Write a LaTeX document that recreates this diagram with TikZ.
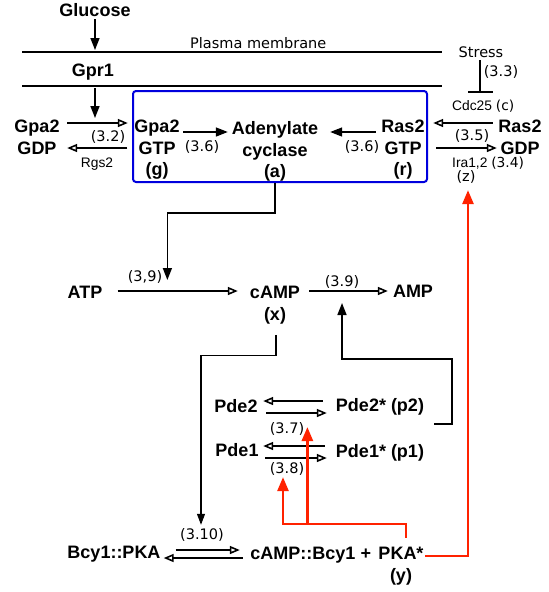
\documentclass[tikz,border=0pt]{standalone}
\usepackage{fontspec}
\setmainfont{Liberation Sans}
\newfontfamily\rateFont{DejaVu Sans}
\usetikzlibrary{arrows.meta, calc}

\begin{document}
\begin{tikzpicture}[x=1pt, y=-1pt,
    species/.style={font=\fontsize{18}{21.5}\selectfont\bfseries, align=center, inner sep=0pt, anchor=base},
    rate/.style={font=\rateFont\fontsize{14.5}{17}\selectfont, inner sep=0pt, anchor=base},
    enzyme/.style={font=\fontsize{13.8}{16}\selectfont, inner sep=0pt, anchor=base},
    membrane/.style={line width=2.4pt},
    conv/.style={line width=1.6pt, -{Triangle[open, length=10pt, width=8pt]}},
    act/.style={line width=1.6pt, -{Triangle[length=12pt, width=9pt]}},
    thinact/.style={line width=1.1pt, -{Triangle[length=11pt, width=8pt]}},
    inhib/.style={line width=2pt, -{Bar[width=25pt]}},
    feed/.style={line width=2.6pt, draw=feedColour, -{Triangle[length=14pt, width=11pt, fill=feedColour]}},
    cyclebox/.style={draw=boxColour, line width=2pt, rounded corners=3pt, inner sep=0pt}]

    % Define colours
    \definecolor{feedColour}{HTML}{FF2200}
    \definecolor{boxColour}{HTML}{0000DD}

    \useasboundingbox (0,0) rectangle (549,592);

    % Membrane
    \coordinate (memTopL) at (22,52);
    \coordinate (memTopR) at (442,52);
    \coordinate (memBotL) at (22,86);
    \coordinate (memBotR) at (442,86);
    \draw[membrane] (memTopL) -- (memTopR);
    \draw[membrane] (memBotL) -- (memBotR);
    \node[rate, anchor=base west] (memLabel) at (190,48) {Plasma membrane};

    % Species (base = last line)
    \node[species] (glucose) at (95,16.5) {Glucose};
    \node[species] (gpr1) at (93,76.5) {Gpr1};
    \node[species] (gpa2gdp) at (37,154) {Gpa2\\GDP};
    \node[species] (gpa2gtp) at (157,175.5) {Gpa2\\GTP\\(g)};
    \node[species] (adcyc) at (275,177.5) {Adenylate\\cyclase\\(a)};
    \node[species] (ras2gtp) at (403,175.5) {Ras2\\GTP\\(r)};
    \node[species] (ras2gdp) at (520,154) {Ras2\\GDP};
    \node[species] (atp) at (85,298.5) {ATP};
    \node[species] (camp) at (275,320) {cAMP\\(x)};
    \node[species] (amp) at (413,297.5) {AMP};
    \node[species] (pde2) at (236,412.5) {Pde2};
    \node[species] (pde2s) at (380,411.5) {Pde2* (p2)};
    \node[species] (pde1) at (237,456.5) {Pde1};
    \node[species] (pde1s) at (380,457) {Pde1* (p1)};
    \node[species] (bcy) at (114,558.5) {Bcy1::PKA};
    \node[species] (complex) at (303,559.5) {cAMP::Bcy1};
    \node[species] (plus) at (366,559.5) {+};
    \node[species] (pka) at (401,581) {PKA*\\(y)};

    % Blue box round the cyclase
    \node[cyclebox, minimum width=294pt, minimum height=91pt] (box) at (280,136.5) {};

    % Stress and enzymes
    \node[rate] (stress) at (481,57) {Stress};
    \node[enzyme, anchor=base west] (cdc25) at (452,110) {Cdc25 {\rateFont (c)}};
    \node[enzyme] (rgs2) at (97,167) {Rgs2};
    \node[enzyme, anchor=base west] (ira) at (452,167) {Ira1,2 {\rateFont (3.4)}};
    \node[rate] (iraz) at (466,181) {(z)};

    % Rate labels
    \node[rate] (rate33) at (501,76) {(3.3)};
    \node[rate] (rate32) at (108,141) {(3.2)};
    \node[rate] (rate36a) at (202,151) {(3.6)};
    \node[rate] (rate36b) at (362,151) {(3.6)};
    \node[rate] (rate35) at (472,140) {(3.5)};
    \node[rate] (rate39a) at (145,281) {(3,9)};
    \node[rate] (rate39b) at (342,286) {(3.9)};
    \node[rate] (rate37) at (287,433) {(3.7)};
    \node[rate] (rate38) at (287,473) {(3.8)};
    \node[rate] (rate310) at (202,539) {(3.10)};

    % Glucose signal through the membrane
    \draw[act] ($(glucose.south)+(0,2.5)$) -- ($(glucose.south |- memTopL)+(0,-2)$);
    \coordinate (r32) at ($(gpr1.base |- memBotL)+(2,32)$);
    \draw[act] ($(gpr1.base |- memBotL)+(2,2)$) -- (r32);

    % Gpa2 cycle
    \draw[conv] ([xshift=7.5pt,yshift=31pt]gpa2gdp.base east) -- ([xshift=-6.5pt,yshift=52.5pt]gpa2gtp.base west);
    \draw[conv] ([xshift=-7pt,yshift=27.5pt]gpa2gtp.base west) -- ([xshift=7.5pt,yshift=6pt]gpa2gdp.base east);
    \draw[act] ([xshift=3.5pt,yshift=43.5pt]gpa2gtp.base east) -- ([xshift=-4pt,yshift=45.5pt]adcyc.base west);

    % Ras2 cycle
    \draw[act] ([xshift=-5.5pt,yshift=43.5pt]ras2gtp.base west) -- ([xshift=12pt,yshift=45.5pt]adcyc.base east);
    \draw[conv] ([xshift=-5.5pt,yshift=31pt]ras2gdp.base west) -- ([xshift=8.5pt,yshift=52.5pt]ras2gtp.base east);
    \draw[conv] ([xshift=11.5pt,yshift=27.5pt]ras2gtp.base east) -- ([xshift=-1.5pt,yshift=6pt]ras2gdp.base west);
    \draw[inhib] ($(stress.south)+(-1,3)$) -- ($(stress.south |- cdc25.north)+(-1,-6)$);

    % cAMP synthesis and breakdown
    \draw[conv] ([xshift=15pt,yshift=7.5pt]atp.base east) -- ([xshift=-12pt,yshift=29pt]camp.base west);
    \draw[conv] ([xshift=9pt,yshift=29pt]camp.base east) -- ([xshift=-5pt,yshift=6.5pt]amp.base west);
    \draw[act] (adcyc |- box.south) -- ++(0,30) -| ($(rate39a.base east)+(5,-1)$);

    % Phosphodiesterases
    \draw[conv] ([xshift=-13pt,yshift=10.5pt]pde2s.base west) -- ([xshift=5.5pt,yshift=11.5pt]pde2.base east);
    \draw[conv] ([xshift=8.5pt,yshift=-0.5pt]pde2.base east) -- ([xshift=-9pt,yshift=-1.5pt]pde2s.base west);
    \draw[conv] ([xshift=-11pt,yshift=11pt]pde1s.base west) -- ([xshift=4.5pt,yshift=10.5pt]pde1.base east);
    \draw[conv] ([xshift=6.5pt,yshift=-1.5pt]pde1.base east) -- ([xshift=-9pt,yshift=-1pt]pde1s.base west);
    \draw[act] ($(pde2s.base east)+(10,12.5)$) -- ++(18,0) -- ++(0,-65) -| ($(rate39b.base)+(0,17)$);

    % PKA release
    \draw[thinact] ($(camp.south)+(1,11)$) -- ++(0,21) -| ($(rate310.north)+(-1,-3)$);
    \draw[conv] ([xshift=15pt,yshift=8.5pt]bcy.base east) -- ([xshift=-10.5pt,yshift=9.5pt]complex.base west);
    \draw[conv] ([xshift=-7.5pt,yshift=1.5pt]complex.base west) -- ([xshift=3pt,yshift=0.5pt]bcy.base east);

    % Feedback from PKA
    \coordinate (redJoin) at ($(pka.north)+(5,-23)$);
    \coordinate (pde2Tip) at ($(rate37.base east)+(3,-6)$);
    \draw[feed] ($(pka.north)+(5,-9)$) -- (redJoin) -| ($(rate38.south)+(-4,2)$);
    \draw[feed] (pde2Tip |- redJoin) -- (pde2Tip);
    \draw[feed] ($(pka.base east)+(1.5,-25)$) -| ($(iraz.south)+(2,7)$);

\end{tikzpicture}
\end{document}
